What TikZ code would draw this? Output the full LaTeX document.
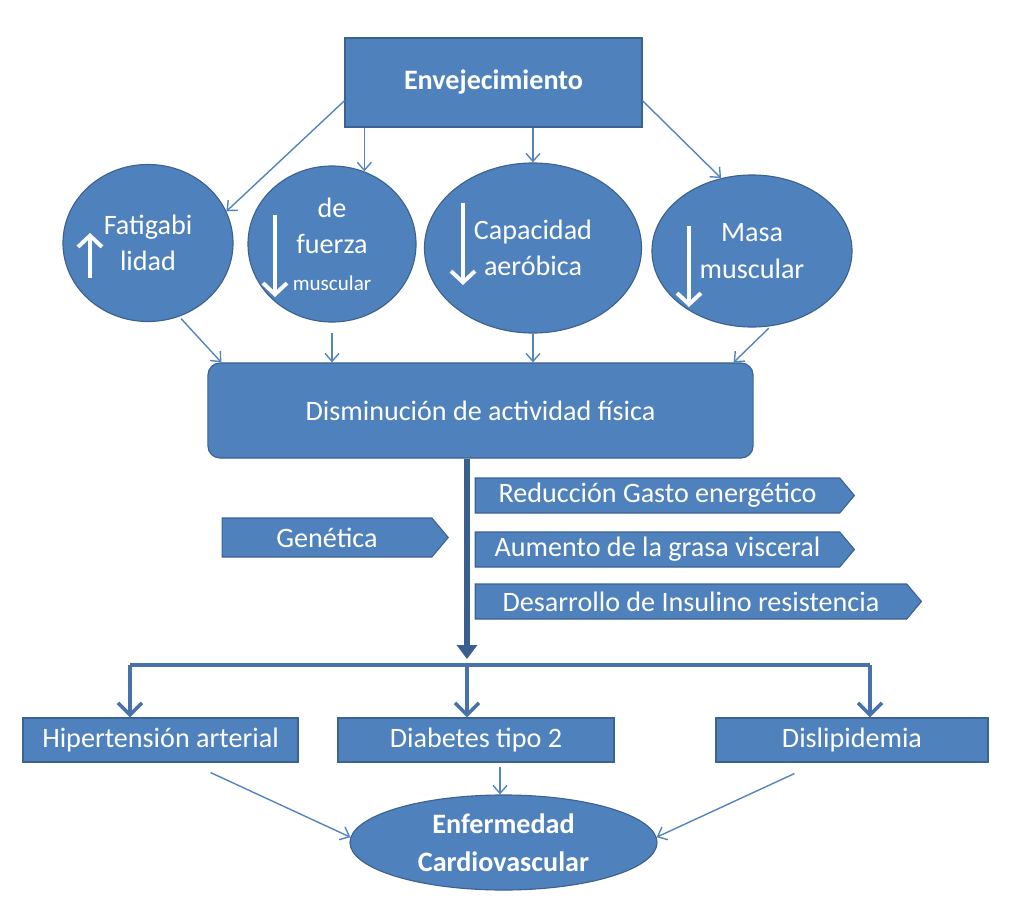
\documentclass[tikz,border=0pt]{standalone}
\usepackage{fontspec}
\setmainfont{Carlito}
\usepackage{tikz}
\usetikzlibrary{shapes.geometric,shapes.symbols,arrows.meta,calc}
\definecolor{boxblue}{RGB}{79,129,189}
\definecolor{edgeblue}{RGB}{60,98,145}
\definecolor{linkblue}{RGB}{84,132,192}
\definecolor{busblue}{RGB}{72,114,172}
\definecolor{trunkblue}{RGB}{58,94,142}
\tikzset{
    blob/.style={ellipse,draw=edgeblue,fill=boxblue,line width=0.8pt,text=white,align=center,inner sep=0pt,font=\fontsize{20}{26}\selectfont},
    block/.style={rectangle,draw=edgeblue,fill=boxblue,line width=0.8pt,text=white,inner sep=2pt,font=\fontsize{20}{24}\selectfont},
    tag/.style={signal,signal to=east,signal pointer angle=100,draw=edgeblue,fill=boxblue,line width=0.8pt,text=white,inner sep=1pt,font=\fontsize{20}{24}\selectfont},
    link/.style={draw=linkblue,line width=1pt,-{Straight Barb[length=2mm,width=3.5mm]}},
    trunk/.style={draw=trunkblue,line width=4.2pt,-{Triangle[length=3.5mm,width=5mm]}},
    branch/.style={draw=busblue,line width=2.6pt},
    rise/.style={draw=white,line width=2.8pt,-{Straight Barb[length=2.8mm,width=6mm]}}
}
\begin{document}
\begin{tikzpicture}[x=0.025cm,y=-0.025cm]
\useasboundingbox (0,0) rectangle (1020,914);

\node[block,font=\bfseries\fontsize{20}{24}\selectfont,minimum width=7.425cm,minimum height=2.225cm] (env) at (493.5,82.5) {Envejecimiento};

\node[blob,minimum width=4.25cm,minimum height=3.925cm] (fat) at (148,243) {Fatigabi\\lidad};
\node[blob,minimum width=4.2cm,minimum height=3.9cm] (fue) at (332,244) {de\\fuerza\\{\fontsize{15}{18}\selectfont muscular}};
\node[blob,minimum width=5.425cm,minimum height=4.25cm] (cap) at (533,248) {Capacidad\\aeróbica};
\node[blob,minimum width=5cm,minimum height=3.8cm] (mas) at (752,251) {Masa\\muscular};

\draw[rise] ($(fat.center)+(-58,35)$) -- ++(0,-45);
\draw[rise] ($(fue.center)+(-57,-29)$) -- ++(0,82);
\draw[rise] ($(cap.center)+(-70,-45)$) -- ++(0,82);
\draw[rise] ($(mas.center)+(-63,-25)$) -- ++(0,81);

\node[block,rounded corners=0.3cm,minimum width=13.625cm,minimum height=2.375cm] (dis) at (480.5,410.5) {Disminución de actividad física};

\node[tag,minimum width=5.65cm,minimum height=0.975cm] (gen) at (327,537.5) {Genética};
\node[tag,minimum width=9.475cm,minimum height=0.875cm] (red) at (657.5,495.5) {Reducción Gasto energético};
\node[tag,minimum width=9.475cm,minimum height=0.875cm] (aum) at (657.5,549.5) {Aumento de la grasa visceral};
\node[tag,minimum width=11.15cm,minimum height=0.875cm] (des) at (691,601.5) {Desarrollo de Insulino resistencia};

\node[block,minimum width=6.875cm,minimum height=1.1cm] (hip) at (160.5,740) {Hipertensión arterial};
\node[block,minimum width=6.9cm,minimum height=1.1cm] (dia) at (476,740) {Diabetes tipo 2};
\node[block,minimum width=6.8cm,minimum height=1.1cm] (dsl) at (852,740) {Dislipidemia};
\node[blob,font=\bfseries\fontsize{20}{27}\selectfont,minimum width=7.675cm,minimum height=2.375cm] (enf) at (503.5,842.5) {Enfermedad\\Cardiovascular};

\draw[link] (env.187) -- (fat.22);
\draw[link] (env.south -| fue.66) -- (fue.66);
\draw[link] (env.south -| cap.north) -- (cap.north);
\draw[link] (env.-7) -- (mas.113);

\draw[link,shorten <=2pt] (fat.-67) -- ($(dis.north west)+(14,0)$);
\draw[link,shorten <=0.27cm] (fue.south) -- (fue.south |- dis.north);
\draw[link] (cap.south) -- (cap.south |- dis.north);
\draw[link,shorten <=2pt] (mas.-76) -- ($(dis.north east)+(-20,0)$);

\coordinate (bus) at (467,665);
\coordinate (busL) at (130,665);
\coordinate (busR) at (870,665);
\draw[trunk,shorten >=0.15cm] (dis.south -| bus) -- (bus);
\draw[branch] (busL) -- (busR);
\draw[branch,-{Straight Barb[length=3mm,width=6mm]}] (busL) -- (busL |- hip.north);
\draw[branch,-{Straight Barb[length=3mm,width=6mm]}] (bus) -- (bus |- dia.north);
\draw[branch,-{Straight Barb[length=3mm,width=6mm]}] (busR) -- (busR |- dsl.north);

\draw[link] ($(hip.south east)+(-88,10)$) -- (enf.178);
\draw[link,shorten <=0.12cm] (dia.south -| 500,0) -- (enf.north -| 500,0);
\draw[link] ($(dsl.south west)+(79,11)$) -- (enf.2);
\end{tikzpicture}
\end{document}
